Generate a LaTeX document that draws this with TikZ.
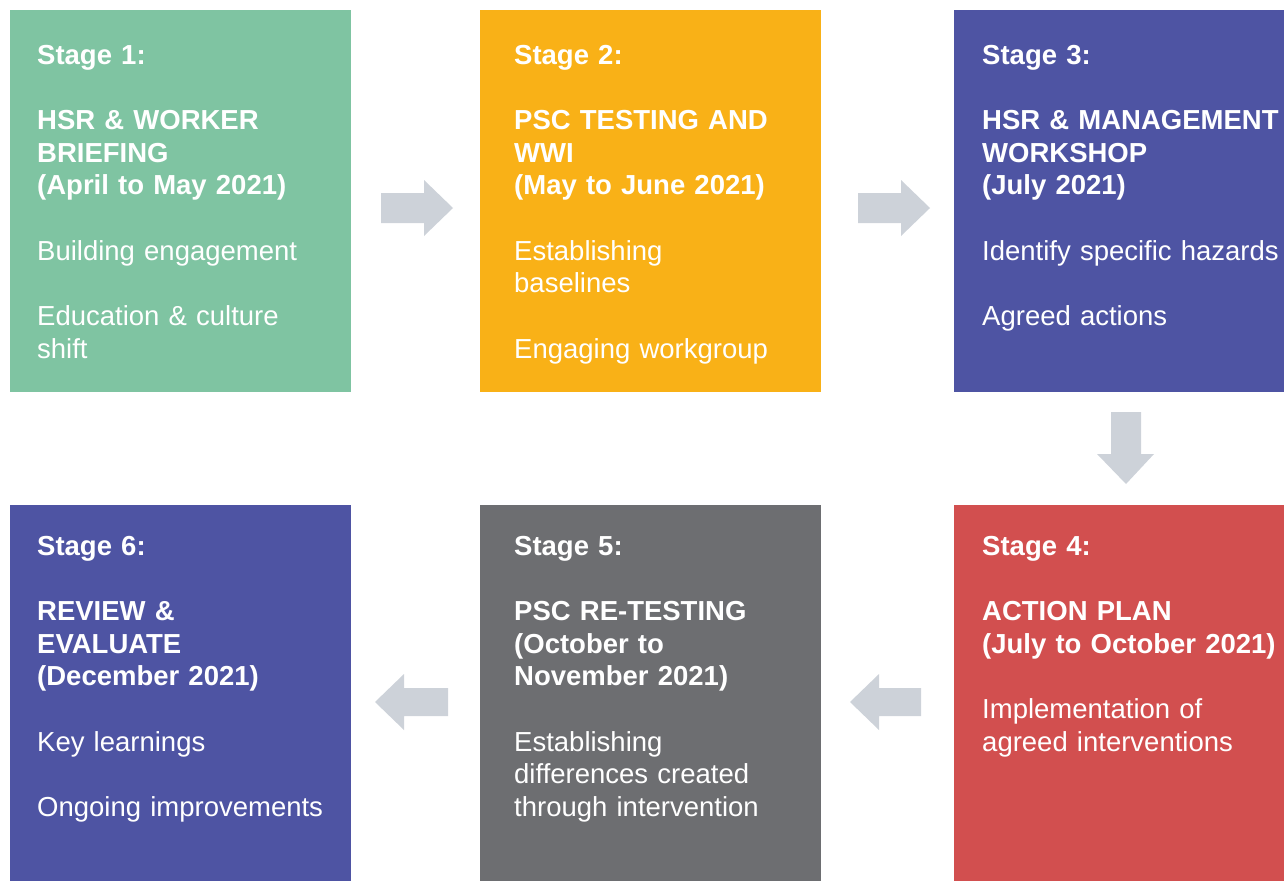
\documentclass[tikz,border=0pt]{standalone}
\usepackage{fontspec}
\setmainfont[WordSpace=0.75]{Liberation Sans}
\definecolor{cgreen}{HTML}{7FC4A2}
\definecolor{corange}{HTML}{F9B117}
\definecolor{cpurple}{HTML}{4E54A3}
\definecolor{cred}{HTML}{D24F4F}
\definecolor{cgray}{HTML}{6D6E71}
\definecolor{carrow}{HTML}{CDD2D9}
\begin{document}
\begin{tikzpicture}[x=1pt,y=-1pt,
  stagetext/.style={inner sep=0pt,anchor=base west,text=white,align=left,text width=#1,
    font=\fontsize{27.5}{32.7}\selectfont},
  blockarrow/.style={fill=carrow,draw=none}]
\useasboundingbox (0,0) rectangle (1284,881);
\clip (0,0) rectangle (1284,881);
% boxes
\fill[cgreen]  (10,10) rectangle (351,392);
\fill[corange] (480,10) rectangle (821,392);
\fill[cpurple] (954,10) rectangle (1284,392);
\fill[cred]    (954,505) rectangle (1284,881);
\fill[cgray]   (480,505) rectangle (821,881);
\fill[cpurple] (10,505) rectangle (351,881);
% texts
\node[stagetext=320pt] (t1) at (37,64) {\textbf{Stage 1:}\\[32.7pt]\textbf{HSR \& WORKER}\\\textbf{BRIEFING}\\\textbf{(April to May 2021)}\\[32.7pt]Building engagement\\[32.7pt]Education \& culture\\shift};
\node[stagetext=320pt] (t2) at (514,64) {\textbf{Stage 2:}\\[32.7pt]\textbf{PSC TESTING AND}\\\textbf{WWI}\\\textbf{(May to June 2021)}\\[32.7pt]Establishing\\baselines\\[32.7pt]Engaging workgroup};
\node[stagetext=320pt] (t3) at (982,64) {\textbf{Stage 3:}\\[32.7pt]\textbf{HSR \& MANAGEMENT}\\\textbf{WORKSHOP}\\\textbf{(July 2021)}\\[32.7pt]Identify specific hazards\\[32.7pt]Agreed actions};
\node[stagetext=320pt] (t4) at (982,555) {\textbf{Stage 4:}\\[32.7pt]\textbf{ACTION PLAN}\\\textbf{(July to October 2021)}\\[32.7pt]Implementation of\\agreed interventions};
\node[stagetext=320pt] (t5) at (514,555) {\textbf{Stage 5:}\\[32.7pt]\textbf{PSC RE-TESTING}\\\textbf{(October to}\\\textbf{November 2021)}\\[32.7pt]Establishing\\differences created\\through intervention};
\node[stagetext=320pt] (t6) at (37,555) {\textbf{Stage 6:}\\[32.7pt]\textbf{REVIEW \&}\\\textbf{EVALUATE}\\\textbf{(December 2021)}\\[32.7pt]Key learnings\\[32.7pt]Ongoing improvements};
% block arrows
\fill[blockarrow] (381,193) -- (424,193) -- (424,180) -- (453,208) -- (424,236) -- (424,223) -- (381,223) -- cycle;
\fill[blockarrow] (858,193) -- (901,193) -- (901,180) -- (930,208) -- (901,236) -- (901,223) -- (858,223) -- cycle;
\fill[blockarrow] (1111,412) -- (1141,412) -- (1141,454) -- (1154,454) -- (1126,484) -- (1097,454) -- (1111,454) -- cycle;
\fill[blockarrow] (921,688) -- (879,688) -- (879,674) -- (850,702) -- (879,730) -- (879,716) -- (921,716) -- cycle;
\fill[blockarrow] (448,688) -- (404,688) -- (404,674) -- (375,702) -- (404,730) -- (404,716) -- (448,716) -- cycle;
\end{tikzpicture}
\end{document}
